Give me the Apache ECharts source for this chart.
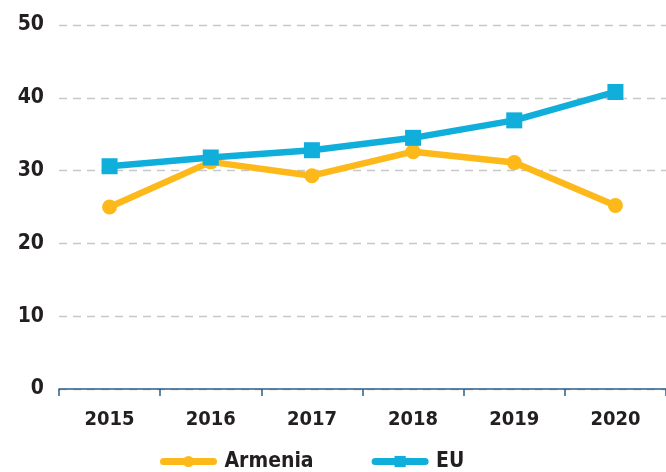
<!DOCTYPE html>
<html><head><meta charset="utf-8">
<script src="https://cdn.jsdelivr.net/npm/echarts@6/dist/echarts.min.js"></script>
<style>html,body{margin:0;padding:0;background:#fff}#c{width:666px;height:472px}</style>
</head><body><div id="c"></div>
<script>
const years = ['2015','2016','2017','2018','2019','2020'];
const armenia = [25.0, 31.2, 29.3, 32.6, 31.1, 25.2];
const eu = [30.6, 31.8, 32.8, 34.5, 36.9, 40.8];
const yTicks = {min: 0, max: 50, interval: 10};

const FONT = '"DejaVu Sans Condensed", "DejaVu Sans", sans-serif';
const chart = echarts.init(document.getElementById('c'), null, {renderer: 'canvas'});
chart.setOption({
  animation: false,
  textStyle: {fontFamily: FONT},
  grid: {left: 59, top: 25, width: 616, height: 364, containLabel: false},
  legend: {
    left: 155, top: 446, itemWidth: 50, itemHeight: 14, itemGap: 58,
    lineStyle: {width: 7, cap: 'round'},
    textStyle: {fontFamily: FONT, fontSize: 21, fontWeight: 'bold', color: '#231F20', padding: [0, 0, 0, 6]},
    data: ['Armenia', 'EU']
  },
  xAxis: {
    type: 'category', data: years, boundaryGap: true,
    axisLine: {lineStyle: {color: '#2C5F8A', width: 1.5}},
    axisTick: {show: true, length: 7, lineStyle: {color: '#2C5F8A', width: 1.5}},
    axisLabel: {fontFamily: FONT, fontSize: 20, fontWeight: 'bold', color: '#231F20', margin: 21}
  },
  yAxis: {
    type: 'value', min: yTicks.min, max: yTicks.max, interval: yTicks.interval,
    axisLine: {show: false}, axisTick: {show: false},
    axisLabel: {fontFamily: FONT, fontSize: 21, fontWeight: 'bold', color: '#231F20', margin: 15},
    splitLine: {lineStyle: {color: '#C8C8C8', width: 1.3, type: [8, 6]}}
  },
  series: [
    {name: 'Armenia', type: 'line', data: armenia, symbol: 'circle', symbolSize: 15,
     itemStyle: {color: '#FDB91A'}, lineStyle: {color: '#FDB91A', width: 6.5}},
    {name: 'EU', type: 'line', data: eu, symbol: 'rect', symbolSize: 16,
     itemStyle: {color: '#10AEDB'}, lineStyle: {color: '#10AEDB', width: 6.5}}
  ]
});
</script></body></html>
